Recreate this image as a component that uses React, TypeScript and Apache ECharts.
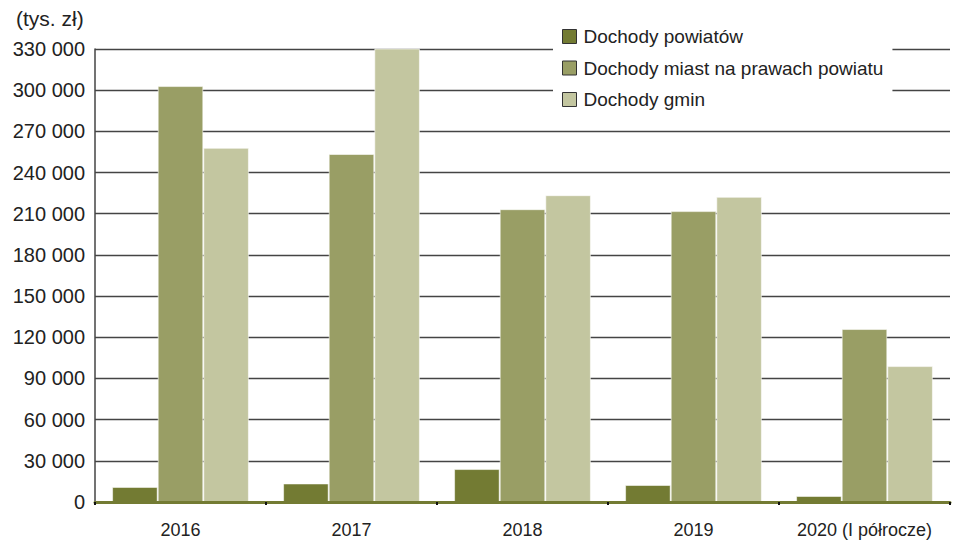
import React, { useEffect, useRef } from "react";
import * as echarts from "echarts";

const categories = ["2016", "2017", "2018", "2019", "2020 (I półrocze)"];
const seriesNames = ["Dochody powiatów", "Dochody miast na prawach powiatu", "Dochody gmin"];
const powiaty = [11000, 13500, 24000, 12400, 4400];
const miasta = [303000, 253500, 213300, 211900, 126000];
const gminy = [258000, 330500, 223500, 222300, 99000];
const colors = ["#737b33", "#999e65", "#c3c6a0"];
const yTicks = { min: 0, max: 330000, interval: 30000 };
const unitLabel = "(tys. zł)";

const fmt = (v: number) => String(v).replace(/\B(?=(\d{3})+(?!\d))/g, " ");

export default function App() {
  const ref = useRef<HTMLDivElement>(null);
  useEffect(() => {
    if (!ref.current) return;
    const chart = echarts.init(ref.current, undefined, { renderer: "svg" });
    const font = "'Liberation Sans', Arial, sans-serif";
    const data = [powiaty, miasta, gminy];
    chart.setOption({
      animation: false,
      textStyle: { fontFamily: font, color: "#222" },
      title: {
        text: unitLabel,
        left: 11,
        top: 3,
        textStyle: { fontFamily: font, fontSize: 21, fontWeight: "normal", color: "#222" },
      },
      grid: { left: 95, right: 3, top: 49, bottom: 41, containLabel: false },
      legend: {
        orient: "vertical",
        left: 553,
        top: 19,
        padding: [8, 9, 10, 9],
        backgroundColor: "#fff",
        itemWidth: 14,
        itemHeight: 14,
        itemGap: 12.5,
        icon: "rect",
        itemStyle: { borderColor: "#333", borderWidth: 1 },
        textStyle: { fontFamily: font, fontSize: 19, color: "#222", padding: [0, 0, 0, 2] },
        data: seriesNames,
      },
      xAxis: {
        type: "category",
        data: categories,
        axisLine: { lineStyle: { color: "#737b33", width: 3 } },
        axisTick: { show: true, interval: 0, length: 3, lineStyle: { color: "#111", width: 2 } },
        axisLabel: { interval: 0, fontSize: 18, color: "#222", margin: 19, fontFamily: font },
        z: 5,
      },
      yAxis: {
        type: "value",
        min: yTicks.min,
        max: yTicks.max,
        interval: yTicks.interval,
        axisLine: { show: true, lineStyle: { color: "#444", width: 1.5 } },
        axisTick: { show: false },
        axisLabel: { fontSize: 20, color: "#222", margin: 10, fontFamily: font, formatter: (v: number) => fmt(v) },
        splitLine: { lineStyle: { color: "#444", width: 1.3 } },
      },
      series: seriesNames.map((name, i) => ({
        name,
        type: "bar",
        data: data[i],
        barGap: "0%",
        barCategoryGap: "20%",
        itemStyle: { color: colors[i], borderColor: "rgba(255,255,255,0.55)", borderWidth: 1 },
        z: 3,
      })),
    });
    return () => chart.dispose();
  }, []);
  return <div ref={ref} style={{ width: 953, height: 543, position: "absolute", left: 0, top: 0 }} />;
}
